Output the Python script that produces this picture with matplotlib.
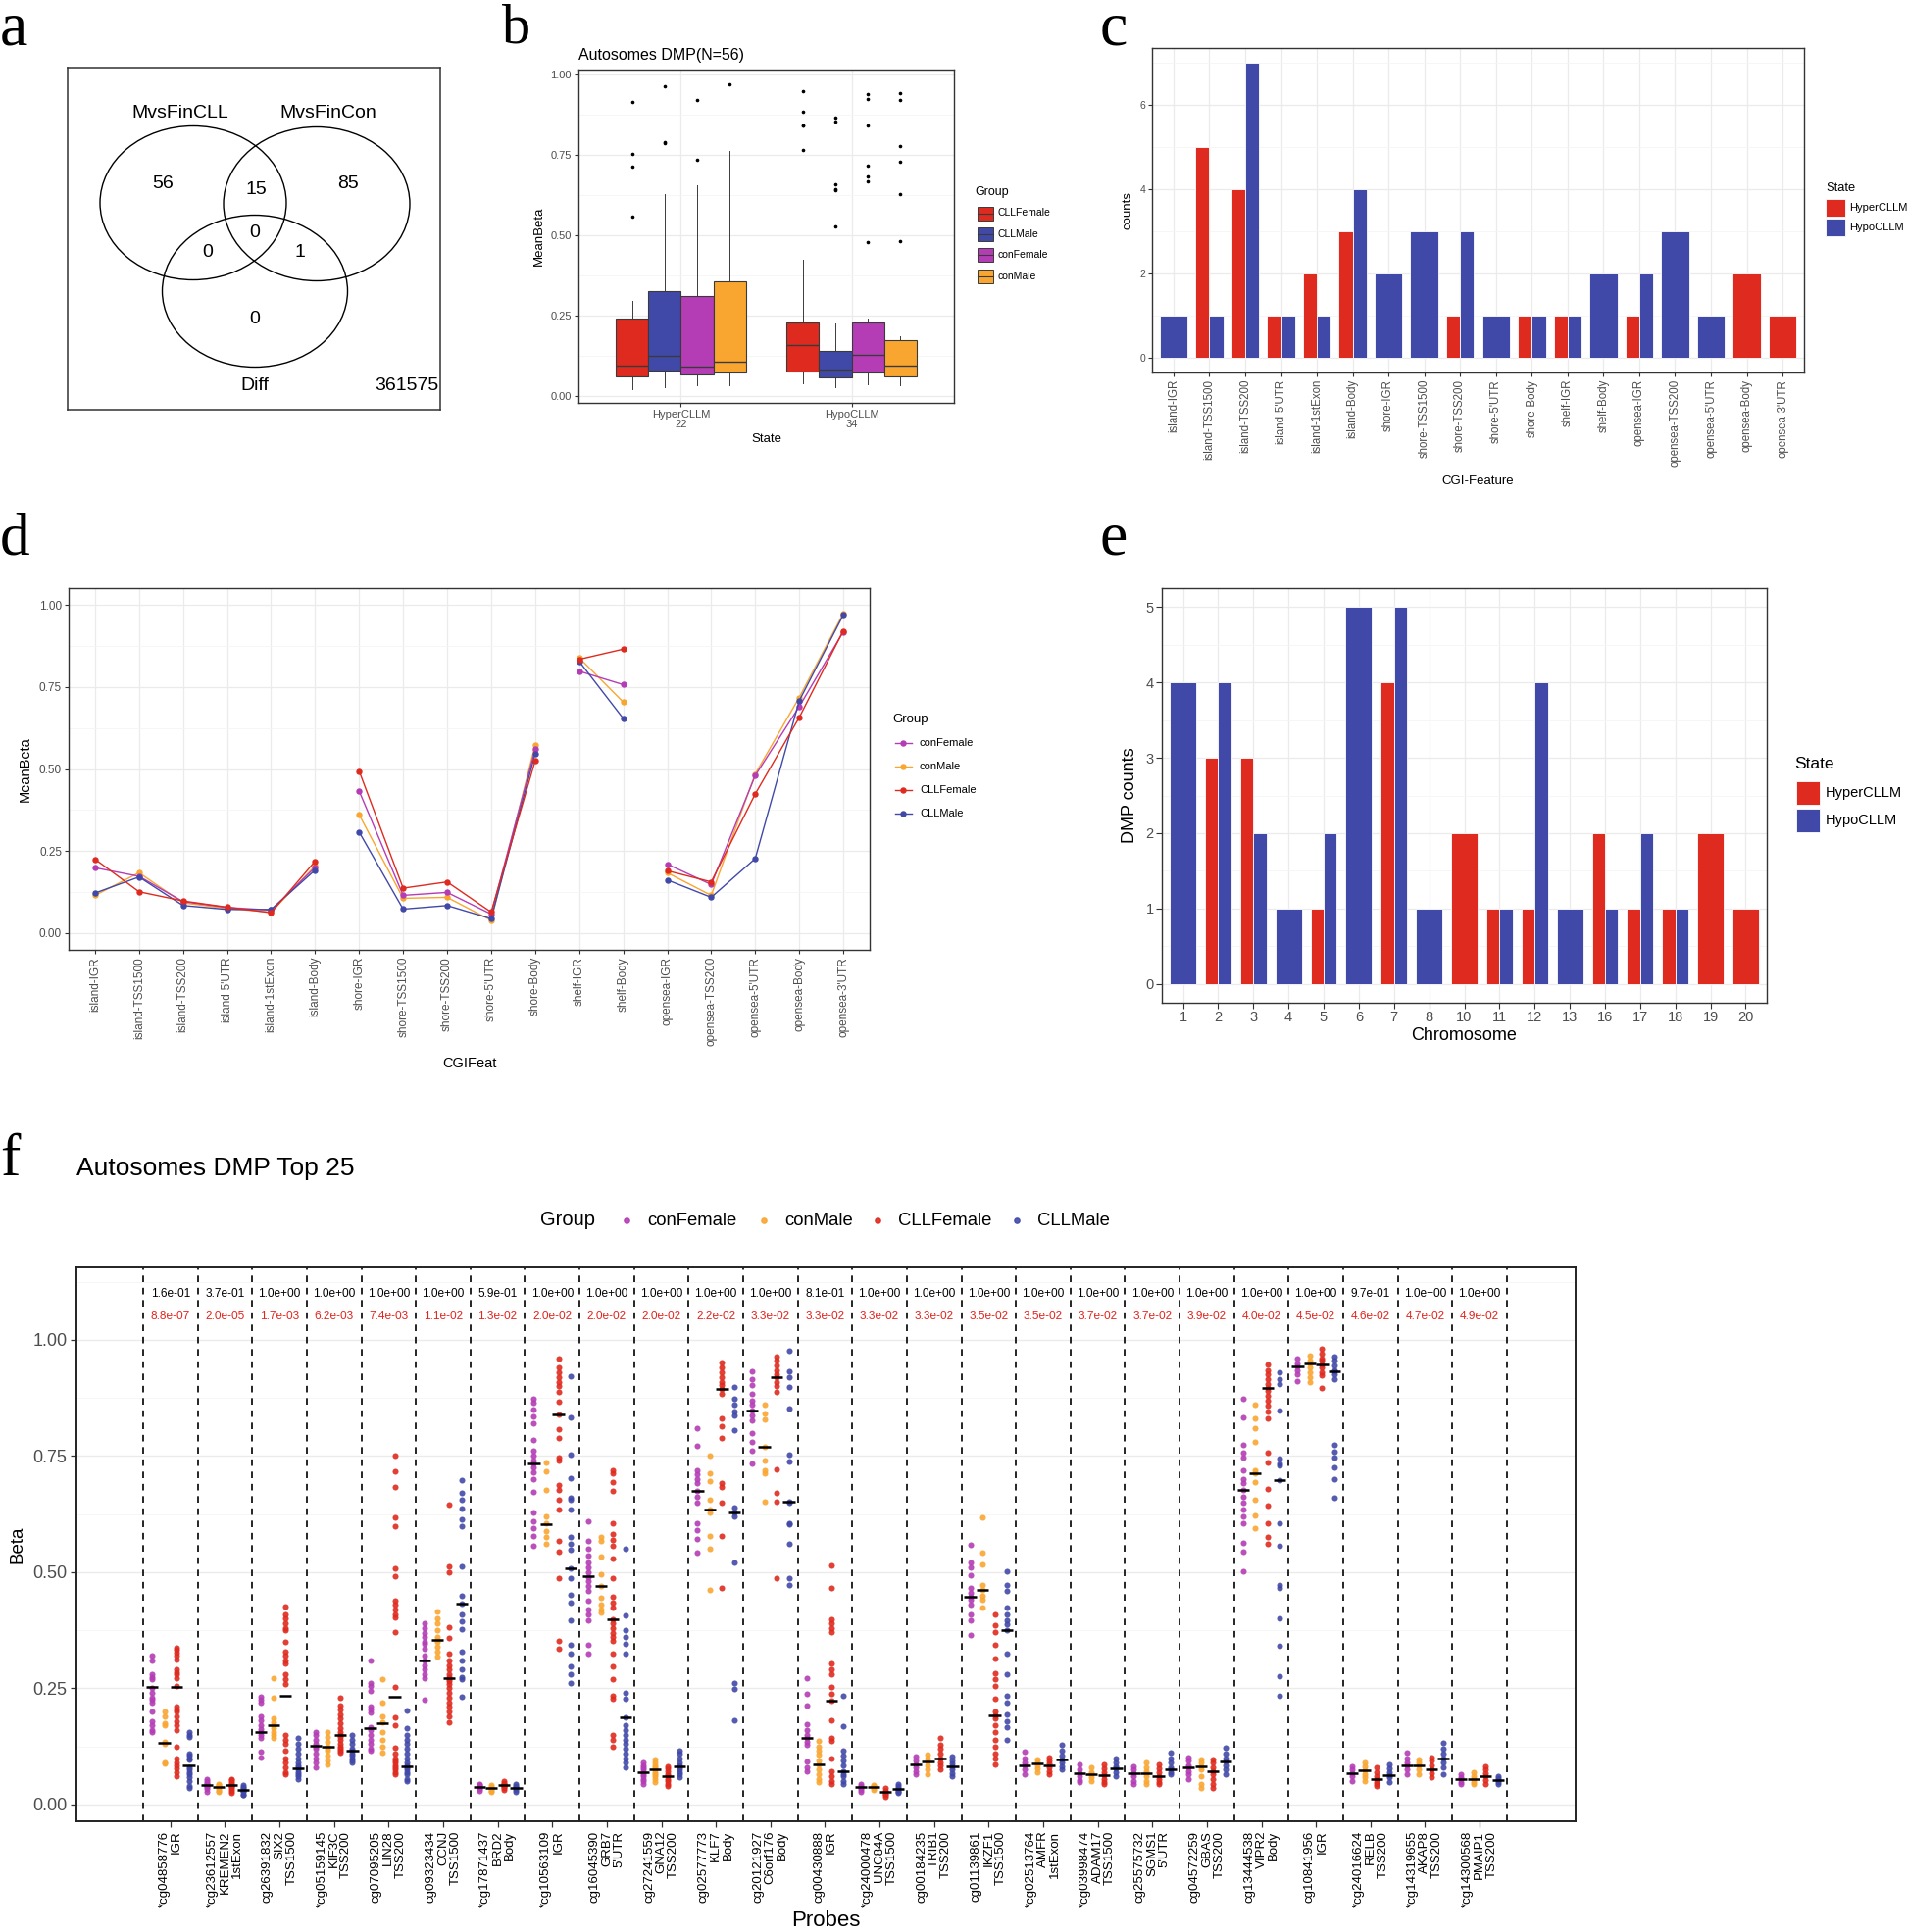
import numpy as np
import matplotlib
matplotlib.use('Agg')
import matplotlib.pyplot as plt
from matplotlib.patches import Ellipse, Rectangle

W, H = 1945, 1971

plt.rcParams.update({
    'font.family': ['Liberation Sans', 'DejaVu Sans'],
    'axes.linewidth': 1.0,
    'xtick.color': '#333333',
    'ytick.color': '#333333',
    'xtick.labelcolor': '#4D4D4D',
    'ytick.labelcolor': '#4D4D4D',
})

RED, BLUE, MAG, ORA = '#DF2A1F', '#4149A8', '#B43DB5', '#F9A631'
GRID, GRID_MINOR = '#EBEBEB', '#F5F5F5'

# ---------------- data ----------------
# a: Venn
venn_names = ['MvsFinCLL', 'MvsFinCon', 'Diff']
venn_counts = ['56', '15', '85', '0', '0', '1', '0']
venn_outside = '361575'

# b: boxplot stats, rows = state, cols = group
b_states = ['HyperCLLM', 'HypoCLLM']
b_state_n = [22, 34]
b_groups = ['CLLFemale', 'CLLMale', 'conFemale', 'conMale']
b_q1 = [[0.061, 0.080, 0.066, 0.072], [0.076, 0.058, 0.072, 0.061]]
b_med = [[0.096, 0.126, 0.091, 0.106], [0.159, 0.083, 0.128, 0.096]]
b_q3 = [[0.241, 0.325, 0.312, 0.357], [0.230, 0.142, 0.228, 0.175]]
b_lo = [[0.022, 0.029, 0.033, 0.035], [0.041, 0.029, 0.038, 0.033]]
b_hi = [[0.297, 0.627, 0.654, 0.761], [0.423, 0.226, 0.241, 0.185]]
b_out = [[[0.915, 0.754, 0.713, 0.558], [0.963, 0.787, 0.790], [0.921, 0.736], [0.970]],
         [[0.947, 0.884, 0.842, 0.840, 0.766], [0.866, 0.852, 0.660, 0.644, 0.639, 0.528],
          [0.939, 0.924, 0.840, 0.717, 0.682, 0.667, 0.479],
          [0.942, 0.920, 0.776, 0.728, 0.629, 0.482]]]

# c: counts per CGI feature
c_features = ['island-IGR', 'island-TSS1500', 'island-TSS200', "island-5'UTR", 'island-1stExon',
              'island-Body', 'shore-IGR', 'shore-TSS1500', 'shore-TSS200', "shore-5'UTR",
              'shore-Body', 'shelf-IGR', 'shelf-Body', 'opensea-IGR', 'opensea-TSS200',
              "opensea-5'UTR", 'opensea-Body', "opensea-3'UTR"]
c_hyper = [0, 5, 4, 1, 2, 3, 0, 0, 1, 0, 1, 1, 0, 1, 0, 0, 2, 1]
c_hypo = [1, 1, 7, 1, 1, 4, 2, 3, 3, 1, 1, 1, 2, 2, 3, 1, 0, 0]

# d: mean beta per CGI feature
d_features = ['island-IGR', 'island-TSS1500', 'island-TSS200', "island-5'UTR", 'island-1stExon',
              'island-Body', 'shore-IGR', 'shore-TSS1500', 'shore-TSS200', "shore-5'UTR",
              'shore-Body', 'shelf-IGR', 'shelf-Body', 'opensea-IGR', 'opensea-TSS200',
              "opensea-5'UTR", 'opensea-Body', "opensea-3'UTR"]
d_conF = [0.199, 0.173, 0.096, 0.078, 0.070, 0.200, 0.433, 0.115, 0.124, 0.058, 0.560,
          0.798, 0.757, 0.210, 0.148, 0.480, 0.690, 0.918]
d_conM = [0.115, 0.184, 0.092, 0.075, 0.064, 0.205, 0.361, 0.106, 0.109, 0.039, 0.574,
          0.839, 0.704, 0.184, 0.115, 0.485, 0.718, 0.974]
d_CLLF = [0.225, 0.126, 0.098, 0.079, 0.062, 0.219, 0.494, 0.137, 0.156, 0.064, 0.525,
          0.834, 0.865, 0.190, 0.156, 0.424, 0.657, 0.921]
d_CLLM = [0.122, 0.171, 0.084, 0.072, 0.072, 0.192, 0.308, 0.073, 0.084, 0.044, 0.547,
          0.828, 0.654, 0.162, 0.109, 0.227, 0.708, 0.969]

# e: DMP counts per chromosome
e_chrom = ['1', '2', '3', '4', '5', '6', '7', '8', '10', '11', '12', '13', '16', '17', '18', '19', '20']
e_hyper = [0, 3, 3, 0, 1, 0, 4, 0, 2, 1, 1, 0, 2, 1, 1, 2, 1]
e_hypo = [4, 4, 2, 1, 2, 5, 5, 1, 0, 1, 4, 1, 1, 2, 1, 0, 0]

# f: top 25 probes
f_ids = ['*cg04858776', '*cg23612557', 'cg26391832', '*cg05159145', 'cg07095205', 'cg09323434',
         '*cg17871437', '*cg10563109', 'cg16045390', 'cg27241559', 'cg02577773', 'cg20121927',
         'cg00430888', '*cg24000478', 'cg00184235', 'cg01139861', '*cg02513764', '*cg03998474',
         'cg25575732', 'cg04572259', 'cg13444538', 'cg10841956', '*cg24016624', '*cg14319655',
         '*cg14300568']
f_genes = ['', 'KREMEN2', 'SIX2', 'KIF3C', 'LIN28', 'CCNJ', 'BRD2', '', 'GRB7', 'GNA12', 'KLF7',
           'C6orf176', '', 'UNC84A', 'TRIB1', 'IKZF1', 'AMFR', 'ADAM17', 'SGMS1', 'GBAS', 'VIPR2',
           '', 'RELB', 'AKAP8', 'PMAIP1']
f_regions = ['IGR', '1stExon', 'TSS1500', 'TSS200', 'TSS200', 'TSS1500', 'Body', 'IGR', "5'UTR",
             'TSS200', 'Body', 'Body', 'IGR', 'TSS1500', 'TSS200', 'TSS1500', '1stExon', 'TSS1500',
             "5'UTR", 'TSS200', 'Body', 'IGR', 'TSS200', 'TSS200', 'TSS200']
f_p_sex = ['1.6e-01', '3.7e-01', '1.0e+00', '1.0e+00', '1.0e+00', '1.0e+00', '5.9e-01', '1.0e+00',
           '1.0e+00', '1.0e+00', '1.0e+00', '1.0e+00', '8.1e-01', '1.0e+00', '1.0e+00', '1.0e+00',
           '1.0e+00', '1.0e+00', '1.0e+00', '1.0e+00', '1.0e+00', '1.0e+00', '9.7e-01', '1.0e+00',
           '1.0e+00']
f_p_state = ['8.8e-07', '2.0e-05', '1.7e-03', '6.2e-03', '7.4e-03', '1.1e-02', '1.3e-02', '2.0e-02',
             '2.0e-02', '2.0e-02', '2.2e-02', '3.3e-02', '3.3e-02', '3.3e-02', '3.3e-02', '3.5e-02',
             '3.5e-02', '3.7e-02', '3.7e-02', '3.9e-02', '4.0e-02', '4.5e-02', '4.6e-02', '4.7e-02',
             '4.9e-02']

f_conF = [
    [0.32, 0.31, 0.28, 0.275, 0.27, 0.25, 0.24, 0.23, 0.225, 0.22, 0.20, 0.18, 0.17, 0.16, 0.155],
    [0.055, 0.05, 0.047, 0.044, 0.042, 0.04, 0.037, 0.033, 0.028],
    [0.232, 0.225, 0.22, 0.19, 0.181, 0.17, 0.162, 0.157, 0.15, 0.144, 0.113, 0.102],
    [0.157, 0.15, 0.14, 0.13, 0.125, 0.12, 0.11, 0.10, 0.09, 0.08],
    [0.31, 0.262, 0.255, 0.245, 0.21, 0.205, 0.199, 0.167, 0.16, 0.15, 0.14, 0.13, 0.12, 0.115],
    [0.39, 0.38, 0.37, 0.36, 0.35, 0.345, 0.336, 0.32, 0.31, 0.30, 0.29, 0.28, 0.273, 0.226],
    [0.045, 0.042, 0.04, 0.038, 0.036, 0.033, 0.03],
    [0.874, 0.865, 0.85, 0.835, 0.821, 0.784, 0.761, 0.75, 0.74, 0.733, 0.725, 0.715, 0.70, 0.673,
     0.628, 0.61, 0.595, 0.578, 0.557],
    [0.61, 0.568, 0.55, 0.536, 0.522, 0.51, 0.50, 0.49, 0.48, 0.47, 0.459, 0.438, 0.42, 0.41, 0.396,
     0.343, 0.325],
    [0.09, 0.085, 0.08, 0.075, 0.07, 0.065, 0.06, 0.055, 0.05, 0.044],
    [0.81, 0.772, 0.719, 0.71, 0.70, 0.691, 0.675, 0.663, 0.649, 0.606, 0.59, 0.571, 0.543],
    [0.933, 0.916, 0.902, 0.884, 0.87, 0.86, 0.849, 0.838, 0.826, 0.80, 0.78, 0.761, 0.734],
    [0.273, 0.238, 0.213, 0.172, 0.16, 0.15, 0.143, 0.135, 0.129, 0.093, 0.08, 0.072],
    [0.045, 0.04, 0.038, 0.035, 0.032, 0.028],
    [0.104, 0.095, 0.086, 0.08, 0.072, 0.065],
    [0.559, 0.522, 0.51, 0.494, 0.466, 0.455, 0.448, 0.44, 0.43, 0.41, 0.396, 0.364],
    [0.113, 0.10, 0.09, 0.084, 0.075, 0.065],
    [0.086, 0.075, 0.067, 0.06, 0.052, 0.048],
    [0.083, 0.075, 0.067, 0.06, 0.05, 0.044],
    [0.102, 0.095, 0.085, 0.079, 0.072, 0.065, 0.055],
    [0.874, 0.833, 0.775, 0.758, 0.747, 0.719, 0.70, 0.691, 0.677, 0.663, 0.65, 0.635, 0.62, 0.606,
     0.564, 0.545, 0.501],
    [0.959, 0.95, 0.942, 0.935, 0.925, 0.912],
    [0.083, 0.075, 0.067, 0.06, 0.051],
    [0.111, 0.10, 0.09, 0.084, 0.075, 0.065],
    [0.065, 0.058, 0.054, 0.048, 0.044],
]
f_conM = [
    [0.20, 0.19, 0.175, 0.17, 0.135, 0.13, 0.09, 0.088],
    [0.045, 0.042, 0.04, 0.037, 0.033, 0.03, 0.027],
    [0.271, 0.23, 0.185, 0.178, 0.171, 0.165, 0.157, 0.15, 0.143],
    [0.157, 0.145, 0.135, 0.125, 0.12, 0.115, 0.105, 0.095, 0.086],
    [0.269, 0.219, 0.19, 0.178, 0.157, 0.14, 0.125, 0.111],
    [0.415, 0.40, 0.39, 0.375, 0.36, 0.355, 0.35, 0.34, 0.33, 0.318],
    [0.042, 0.038, 0.036, 0.034, 0.03, 0.027],
    [0.736, 0.717, 0.677, 0.62, 0.605, 0.589, 0.575, 0.561],
    [0.575, 0.568, 0.533, 0.495, 0.471, 0.445, 0.43, 0.42, 0.413],
    [0.097, 0.09, 0.085, 0.08, 0.076, 0.07, 0.065, 0.06, 0.055, 0.048],
    [0.751, 0.712, 0.696, 0.656, 0.635, 0.628, 0.578, 0.55, 0.462],
    [0.861, 0.842, 0.828, 0.77, 0.74, 0.719, 0.712, 0.651],
    [0.136, 0.125, 0.115, 0.108, 0.095, 0.086, 0.075, 0.065, 0.055, 0.048],
    [0.042, 0.04, 0.038, 0.035, 0.032],
    [0.108, 0.10, 0.093, 0.085, 0.075, 0.065],
    [0.619, 0.543, 0.517, 0.473, 0.462, 0.45, 0.44, 0.424],
    [0.097, 0.09, 0.085, 0.078, 0.069],
    [0.079, 0.07, 0.065, 0.058, 0.051],
    [0.09, 0.08, 0.072, 0.067, 0.06, 0.05, 0.044],
    [0.097, 0.09, 0.083, 0.075, 0.06, 0.044, 0.035],
    [0.861, 0.831, 0.809, 0.78, 0.72, 0.713, 0.694, 0.656, 0.622, 0.594],
    [0.966, 0.955, 0.949, 0.94, 0.93, 0.92, 0.909],
    [0.09, 0.082, 0.074, 0.065, 0.058, 0.051],
    [0.097, 0.09, 0.084, 0.075, 0.065],
    [0.069, 0.06, 0.054, 0.048, 0.044],
]
f_CLLF = [
    [0.338, 0.333, 0.327, 0.32, 0.313, 0.29, 0.285, 0.28, 0.273, 0.255, 0.21, 0.205, 0.20, 0.19,
     0.18, 0.17, 0.16, 0.125, 0.10, 0.09, 0.085, 0.078, 0.07, 0.062],
    [0.055, 0.052, 0.048, 0.045, 0.042, 0.04, 0.037, 0.033, 0.03, 0.025],
    [0.425, 0.41, 0.40, 0.39, 0.38, 0.375, 0.35, 0.33, 0.32, 0.31, 0.304, 0.28, 0.27, 0.26, 0.15,
     0.14, 0.13, 0.115, 0.10, 0.09, 0.08, 0.07, 0.065],
    [0.229, 0.213, 0.205, 0.195, 0.185, 0.175, 0.165, 0.155, 0.15, 0.145, 0.14, 0.13, 0.125, 0.12,
     0.115, 0.111],
    [0.75, 0.717, 0.683, 0.618, 0.60, 0.508, 0.491, 0.438, 0.43, 0.42, 0.41, 0.403, 0.371, 0.254,
     0.188, 0.171, 0.122, 0.11, 0.10, 0.095, 0.09, 0.085, 0.08, 0.075, 0.07, 0.065],
    [0.645, 0.513, 0.50, 0.382, 0.359, 0.325, 0.31, 0.30, 0.29, 0.28, 0.275, 0.27, 0.265, 0.26,
     0.25, 0.24, 0.23, 0.22, 0.21, 0.20, 0.19, 0.178],
    [0.05, 0.047, 0.044, 0.042, 0.04, 0.038, 0.035, 0.032],
    [0.96, 0.94, 0.93, 0.92, 0.91, 0.90, 0.888, 0.866, 0.84, 0.807, 0.789, 0.747, 0.74, 0.687,
     0.677, 0.656, 0.635, 0.568, 0.545, 0.488, 0.353, 0.336],
    [0.719, 0.712, 0.694, 0.675, 0.605, 0.582, 0.57, 0.557, 0.529, 0.487, 0.448, 0.435, 0.424,
     0.399, 0.39, 0.38, 0.37, 0.36, 0.353, 0.325, 0.297, 0.269, 0.234, 0.227, 0.15, 0.14, 0.125],
    [0.083, 0.078, 0.072, 0.066, 0.06, 0.055, 0.05, 0.044, 0.04],
    [0.951, 0.94, 0.93, 0.92, 0.91, 0.902, 0.895, 0.884, 0.831, 0.814, 0.789, 0.691, 0.684, 0.649,
     0.578, 0.467],
    [0.965, 0.955, 0.945, 0.935, 0.925, 0.919, 0.91, 0.90, 0.888, 0.722, 0.67, 0.652, 0.488],
    [0.515, 0.467, 0.399, 0.39, 0.38, 0.371, 0.304, 0.29, 0.28, 0.252, 0.238, 0.224, 0.181, 0.143,
     0.136, 0.10, 0.072, 0.06, 0.05, 0.044],
    [0.035, 0.03, 0.027, 0.024, 0.02, 0.017],
    [0.144, 0.129, 0.12, 0.11, 0.098, 0.09, 0.085, 0.076],
    [0.41, 0.385, 0.371, 0.343, 0.315, 0.282, 0.27, 0.255, 0.227, 0.20, 0.192, 0.185, 0.17, 0.155,
     0.14, 0.125, 0.11, 0.10, 0.086],
    [0.102, 0.095, 0.088, 0.08, 0.072, 0.065],
    [0.086, 0.078, 0.07, 0.064, 0.055, 0.048, 0.044],
    [0.086, 0.078, 0.07, 0.062, 0.055, 0.048, 0.044],
    [0.097, 0.09, 0.08, 0.072, 0.065, 0.055, 0.044, 0.035],
    [0.947, 0.935, 0.925, 0.915, 0.905, 0.897, 0.89, 0.88, 0.87, 0.859, 0.845, 0.831, 0.758, 0.737,
     0.68, 0.643, 0.606, 0.575, 0.561],
    [0.98, 0.97, 0.96, 0.955, 0.947, 0.94, 0.93, 0.923, 0.896],
    [0.079, 0.07, 0.062, 0.055, 0.048, 0.044, 0.04],
    [0.102, 0.095, 0.085, 0.076, 0.068, 0.058],
    [0.083, 0.075, 0.068, 0.06, 0.052, 0.044],
]
f_CLLM = [
    [0.155, 0.15, 0.145, 0.11, 0.105, 0.10, 0.097, 0.08, 0.075, 0.07, 0.065, 0.058, 0.05, 0.04, 0.035],
    [0.042, 0.038, 0.035, 0.032, 0.03, 0.027, 0.022, 0.02],
    [0.143, 0.13, 0.12, 0.11, 0.10, 0.09, 0.085, 0.08, 0.075, 0.07, 0.065, 0.06, 0.055],
    [0.15, 0.14, 0.13, 0.12, 0.115, 0.11, 0.105, 0.10, 0.095, 0.09],
    [0.202, 0.164, 0.15, 0.14, 0.13, 0.12, 0.11, 0.10, 0.09, 0.085, 0.08, 0.075, 0.07, 0.065, 0.055,
     0.05],
    [0.699, 0.671, 0.655, 0.638, 0.614, 0.598, 0.513, 0.45, 0.432, 0.41, 0.395, 0.378, 0.329, 0.31,
     0.29, 0.275, 0.269, 0.232],
    [0.045, 0.04, 0.037, 0.035, 0.032, 0.028],
    [0.921, 0.833, 0.754, 0.703, 0.661, 0.656, 0.635, 0.575, 0.56, 0.549, 0.508, 0.487, 0.452,
     0.434, 0.396, 0.343, 0.325, 0.297, 0.28, 0.262],
    [0.55, 0.406, 0.375, 0.36, 0.346, 0.325, 0.241, 0.227, 0.188, 0.171, 0.16, 0.15, 0.14, 0.13,
     0.12, 0.11, 0.10, 0.09, 0.079],
    [0.115, 0.11, 0.10, 0.09, 0.085, 0.08, 0.075, 0.07, 0.065, 0.058],
    [0.898, 0.874, 0.86, 0.845, 0.838, 0.805, 0.64, 0.629, 0.62, 0.522, 0.262, 0.248, 0.181],
    [0.977, 0.933, 0.92, 0.898, 0.852, 0.752, 0.739, 0.652, 0.649, 0.606, 0.603, 0.561, 0.488, 0.473],
    [0.234, 0.169, 0.115, 0.105, 0.095, 0.085, 0.072, 0.065, 0.06, 0.05, 0.045],
    [0.045, 0.04, 0.036, 0.033, 0.03, 0.027, 0.025],
    [0.104, 0.095, 0.088, 0.083, 0.075, 0.068, 0.062],
    [0.501, 0.473, 0.459, 0.424, 0.41, 0.396, 0.389, 0.375, 0.325, 0.28, 0.234, 0.22, 0.195, 0.18,
     0.167, 0.139],
    [0.129, 0.115, 0.105, 0.097, 0.09, 0.082, 0.076],
    [0.098, 0.09, 0.082, 0.078, 0.07, 0.062],
    [0.111, 0.10, 0.09, 0.08, 0.075, 0.07, 0.065],
    [0.122, 0.11, 0.10, 0.092, 0.085, 0.075, 0.065],
    [0.931, 0.916, 0.905, 0.848, 0.744, 0.735, 0.729, 0.698, 0.606, 0.557, 0.473, 0.467, 0.401,
     0.341, 0.276, 0.234],
    [0.965, 0.955, 0.945, 0.935, 0.932, 0.925, 0.916, 0.774, 0.76, 0.747, 0.725, 0.701, 0.661],
    [0.086, 0.078, 0.07, 0.064, 0.058, 0.048],
    [0.132, 0.12, 0.11, 0.10, 0.09, 0.08, 0.065],
    [0.062, 0.057, 0.053, 0.048, 0.044],
]
f_med_conF = [0.254, 0.042, 0.157, 0.126, 0.164, 0.309, 0.038, 0.733, 0.491, 0.070, 0.675, 0.849,
              0.143, 0.038, 0.086, 0.448, 0.084, 0.067, 0.067, 0.079, 0.677, 0.942, 0.067, 0.084, 0.054]
f_med_conM = [0.132, 0.038, 0.171, 0.124, 0.176, 0.355, 0.036, 0.603, 0.471, 0.076, 0.635, 0.770,
              0.086, 0.038, 0.093, 0.462, 0.088, 0.065, 0.067, 0.083, 0.713, 0.949, 0.074, 0.084, 0.054]
f_med_CLLF = [0.254, 0.042, 0.234, 0.149, 0.232, 0.271, 0.042, 0.840, 0.399, 0.060, 0.895, 0.919,
              0.224, 0.027, 0.098, 0.192, 0.085, 0.064, 0.062, 0.072, 0.897, 0.947, 0.055, 0.076, 0.060]
f_med_CLLM = [0.084, 0.032, 0.078, 0.116, 0.082, 0.432, 0.036, 0.508, 0.188, 0.082, 0.629, 0.652,
              0.072, 0.033, 0.083, 0.375, 0.097, 0.078, 0.075, 0.092, 0.698, 0.932, 0.064, 0.100, 0.053]


def px_rect(l, t, r, b):
    return [l / W, 1 - b / H, (r - l) / W, (b - t) / H]


def style_bw(ax, tick_size, tick_len=3):
    for s in ax.spines.values():
        s.set_color('#333333')
        s.set_linewidth(1.0)
    ax.set_axisbelow(True)
    ax.grid(True, which='major', color=GRID, lw=0.9)
    ax.grid(True, which='minor', color=GRID_MINOR, lw=0.6)
    ax.tick_params(which='major', length=tick_len, width=0.8, labelsize=tick_size, pad=2)
    ax.tick_params(which='minor', length=0)


def dodge_bars(ax, hyper, hypo, width):
    for i, (a, b) in enumerate(zip(hyper, hypo)):
        if a > 0 and b > 0:
            ax.bar(i - width / 4, a, width / 2, color=RED, edgecolor='white', lw=0.6)
            ax.bar(i + width / 4, b, width / 2, color=BLUE, edgecolor='white', lw=0.6)
        elif a > 0:
            ax.bar(i, a, width, color=RED, edgecolor='white', lw=0.6)
        elif b > 0:
            ax.bar(i, b, width, color=BLUE, edgecolor='white', lw=0.6)


fig = plt.figure(figsize=(W / 100, H / 100), dpi=100)

# ---------------- a: Venn ----------------
ax = fig.add_axes(px_rect(69, 69, 449, 418))
ax.set_xlim(69, 449)
ax.set_ylim(418, 69)
ax.set_xticks([])
ax.set_yticks([])
for s in ax.spines.values():
    s.set_color('#333333')
    s.set_linewidth(1.1)
for cx, cy, w, h in [(197, 207, 190, 157), (323, 208, 190, 157), (260, 297, 189, 155)]:
    ax.add_patch(Ellipse((cx, cy), w, h, fill=False, ec='black', lw=1.0))
for (x, y), name in zip([(184, 115), (335, 115), (260, 393)], venn_names):
    ax.text(x, y, name, fontsize=14, ha='center', va='center')
for (x, y), n in zip([(166, 188), (261, 193), (355, 188), (260, 238), (212, 257), (306, 257),
                      (260, 325)], venn_counts):
    ax.text(x, y, n, fontsize=14, ha='center', va='center')
ax.text(447, 393, venn_outside, fontsize=14, ha='right', va='center')

# ---------------- b: boxplots ----------------
ax = fig.add_axes(px_rect(590, 71, 973, 411))
cols_b = [RED, BLUE, MAG, ORA]
bw = 0.19
for si in range(len(b_states)):
    for gi in range(len(b_groups)):
        st = dict(q1=b_q1[si][gi], med=b_med[si][gi], q3=b_q3[si][gi],
                  whislo=b_lo[si][gi], whishi=b_hi[si][gi], fliers=b_out[si][gi])
        ax.bxp([st], positions=[si + 1 + (gi - 1.5) * bw], widths=bw, patch_artist=True,
               showcaps=False,
               boxprops=dict(facecolor=cols_b[gi], edgecolor='#3A3A3A', lw=0.8),
               medianprops=dict(color='#3A3A3A', lw=1.0),
               whiskerprops=dict(color='#3A3A3A', lw=0.7),
               flierprops=dict(marker='o', ms=1.6, mfc='black', mec='black'))
ax.set_xlim(0.4, 2.6)
ax.set_ylim(-0.021, 1.015)
ax.set_yticks([0, 0.25, 0.5, 0.75, 1.0])
ax.set_yticklabels(['0.00', '0.25', '0.50', '0.75', '1.00'])
ax.set_yticks([0.125, 0.375, 0.625, 0.875], minor=True)
ax.set_xticks([1, 2])
ax.set_xticklabels([f'{s}\n{n}' for s, n in zip(b_states, b_state_n)], linespacing=0.95)
style_bw(ax, 8)
ax.set_xlabel('State', fontsize=9.5, labelpad=3)
ax.set_ylabel('MeanBeta', fontsize=9.5, labelpad=4)
ax.set_title('Autosomes DMP(N=56)', fontsize=11.5, loc='left', pad=7)

# ---------------- c: feature bar chart ----------------
ax = fig.add_axes(px_rect(1175, 49, 1840, 380))
dodge_bars(ax, c_hyper, c_hypo, 0.78)
ax.set_xlim(-0.6, len(c_features) - 0.4)
ax.set_ylim(-0.35, 7.35)
ax.set_xticks(range(len(c_features)))
ax.set_xticklabels(c_features, rotation=90, ha='center', va='top')
ax.set_yticks([0, 2, 4, 6])
ax.set_yticks([1, 3, 5, 7], minor=True)
style_bw(ax, 8.3)
ax.tick_params(axis='y', labelsize=7.5)
ax.set_xlabel('CGI-Feature', fontsize=9.5, labelpad=6)
ax.set_ylabel('counts', fontsize=9.5, labelpad=4)

# ---------------- d: mean beta lines ----------------
ax = fig.add_axes(px_rect(70, 600, 887, 969))
xd = np.arange(len(d_features))
classes = [f.split('-')[0] for f in d_features]
for vals, col in [(d_conM, ORA), (d_conF, MAG), (d_CLLM, BLUE), (d_CLLF, RED)]:
    vals = np.array(vals)
    for cls in dict.fromkeys(classes):
        idx = [i for i, c in enumerate(classes) if c == cls]
        ax.plot(xd[idx], vals[idx], color=col, lw=1.0, marker='o', ms=3.6, mec=col)
ax.set_xlim(-0.6, len(d_features) - 0.4)
ax.set_ylim(-0.051, 1.051)
ax.set_xticks(xd)
ax.set_xticklabels(d_features, rotation=90, ha='center', va='top')
ax.set_yticks([0, 0.25, 0.5, 0.75, 1.0])
ax.set_yticklabels(['0.00', '0.25', '0.50', '0.75', '1.00'])
ax.set_yticks([0.125, 0.375, 0.625, 0.875], minor=True)
style_bw(ax, 8.5)
ax.set_xlabel('CGIFeat', fontsize=10.5, labelpad=8)
ax.set_ylabel('MeanBeta', fontsize=10.5, labelpad=5)

# ---------------- e: chromosome bar chart ----------------
ax = fig.add_axes(px_rect(1185, 600, 1802, 1023))
dodge_bars(ax, e_hyper, e_hypo, 0.75)
ax.set_xlim(-0.6, len(e_chrom) - 0.4)
ax.set_ylim(-0.25, 5.25)
ax.set_xticks(range(len(e_chrom)))
ax.set_xticklabels(e_chrom)
ax.set_yticks(range(6))
ax.set_yticks([0.5, 1.5, 2.5, 3.5, 4.5], minor=True)
style_bw(ax, 10.5, tick_len=4)
ax.set_xlabel('Chromosome', fontsize=13, labelpad=2)
ax.set_ylabel('DMP counts', fontsize=13, labelpad=5)

# ---------------- f: top 25 probes ----------------
ax = fig.add_axes(px_rect(78, 1293, 1607, 1858))
n = len(f_ids)
offsets = [-0.3375, -0.1125, 0.1125, 0.3375]
series = [(f_conF, f_med_conF, MAG), (f_conM, f_med_conM, ORA),
          (f_CLLF, f_med_CLLF, RED), (f_CLLM, f_med_CLLM, BLUE)]
for gi, (pts, meds, col) in enumerate(series):
    for i in range(n):
        y = np.array(pts[i])
        ax.scatter(np.full(len(y), i + offsets[gi]), y, s=19, color=col, alpha=0.9,
                   lw=0, zorder=3)
    xs = np.arange(n) + offsets[gi]
    ax.hlines(meds, xs - 0.11, xs + 0.11, color='black', lw=1.8, zorder=4)
for b in np.arange(n + 1) - 0.5:
    ax.axvline(b, color='black', lw=1.2, ls=(0, (4, 3.5)), zorder=2)
for i in range(n):
    ax.text(i, 1.099, f_p_sex[i], fontsize=8.6, ha='center', va='center', color='black')
    ax.text(i, 1.051, f_p_state[i], fontsize=8.6, ha='center', va='center', color='#E3261F')
ax.set_xlim(-1.722, 25.76)
ax.set_ylim(-0.036, 1.156)
ax.set_yticks([0, 0.25, 0.5, 0.75, 1.0])
ax.set_yticklabels(['0.00', '0.25', '0.50', '0.75', '1.00'])
ax.set_yticks([0.125, 0.375, 0.625, 0.875, 1.125], minor=True)
ax.set_xticks(range(n))
f_labels = ['\n'.join([p for p in (pid, g, r) if p]) for pid, g, r in zip(f_ids, f_genes, f_regions)]
ax.set_xticklabels(f_labels, rotation=90, ha='center', va='top', multialignment='right',
                   linespacing=1.05, color='black')
for s in ax.spines.values():
    s.set_color('#222222')
    s.set_linewidth(1.4)
ax.set_axisbelow(True)
ax.grid(True, axis='y', which='major', color=GRID, lw=1.0)
ax.grid(True, axis='y', which='minor', color=GRID_MINOR, lw=0.6)
ax.tick_params(which='major', length=4, width=0.9, pad=3)
ax.tick_params(axis='y', labelsize=13)
ax.tick_params(axis='x', labelsize=9.5)
ax.tick_params(which='minor', length=0)
ax.set_xlabel('Probes', fontsize=16, labelpad=2)
ax.set_ylabel('Beta', fontsize=13.5, labelpad=5)

# ---------------- overlay: legends & panel letters ----------------
ov = fig.add_axes([0, 0, 1, 1])
ov.set_xlim(0, W)
ov.set_ylim(H, 0)
ov.axis('off')

for x, y, letter, fs in [(0, 45, 'a', 46), (512, 44, 'b', 42), (1122, 45, 'c', 46),
                         (0, 566, 'd', 44), (1122, 566, 'e', 46), (0, 1199, 'f', 44)]:
    ov.text(x, y, letter, fontsize=fs, family='Liberation Serif', va='baseline', ha='left')

# b legend
ov.text(994, 196, 'Group', fontsize=9, va='center')
for k, (g, col) in enumerate(zip(b_groups, cols_b)):
    y = 217.5 + k * 21.4
    ov.add_patch(Rectangle((997, y - 7), 16, 14, fc=col, ec='#3A3A3A', lw=0.7))
    ov.plot([997, 1013], [y, y], color='#3A3A3A', lw=0.8)
    ov.text(1018, y, g, fontsize=7.5, va='center')

# c legend
ov.text(1862, 192, 'State', fontsize=9.3, va='center')
for k, (s, col) in enumerate(zip(b_states, [RED, BLUE])):
    y = 212 + k * 20
    ov.add_patch(Rectangle((1862, y - 9), 20, 18, fc=col, ec='white', lw=0.6))
    ov.text(1886, y, s, fontsize=8, va='center')

# d legend
ov.text(910, 734, 'Group', fontsize=9.5, va='center')
for k, (g, col) in enumerate(zip(['conFemale', 'conMale', 'CLLFemale', 'CLLMale'],
                                 [MAG, ORA, RED, BLUE])):
    y = 758 + k * 24
    ov.plot([913, 930], [y, y], color=col, lw=1.0)
    ov.plot([921.5], [y], marker='o', ms=3.6, color=col)
    ov.text(938, y, g, fontsize=8, va='center')

# e legend
ov.text(1830, 780, 'State', fontsize=12.5, va='center')
for k, (s, col) in enumerate(zip(b_states, [RED, BLUE])):
    y = 809 + k * 28
    ov.add_patch(Rectangle((1832, y - 12), 24, 24, fc=col, ec='white', lw=0.6))
    ov.text(1862, y, s, fontsize=10.5, va='center')

# f title and legend
ov.text(78, 1192, 'Autosomes DMP Top 25', fontsize=19, va='center')
ov.text(551, 1245, 'Group', fontsize=14.5, va='center')
for x, g, col in zip([639, 779, 895, 1037], ['conFemale', 'conMale', 'CLLFemale', 'CLLMale'],
                     [MAG, ORA, RED, BLUE]):
    ov.plot([x], [1245], marker='o', ms=3.8, color=col, alpha=0.9)
    ov.text(x + 21, 1245, g, fontsize=13.3, va='center')

fig.savefig('out.png', dpi=100)
